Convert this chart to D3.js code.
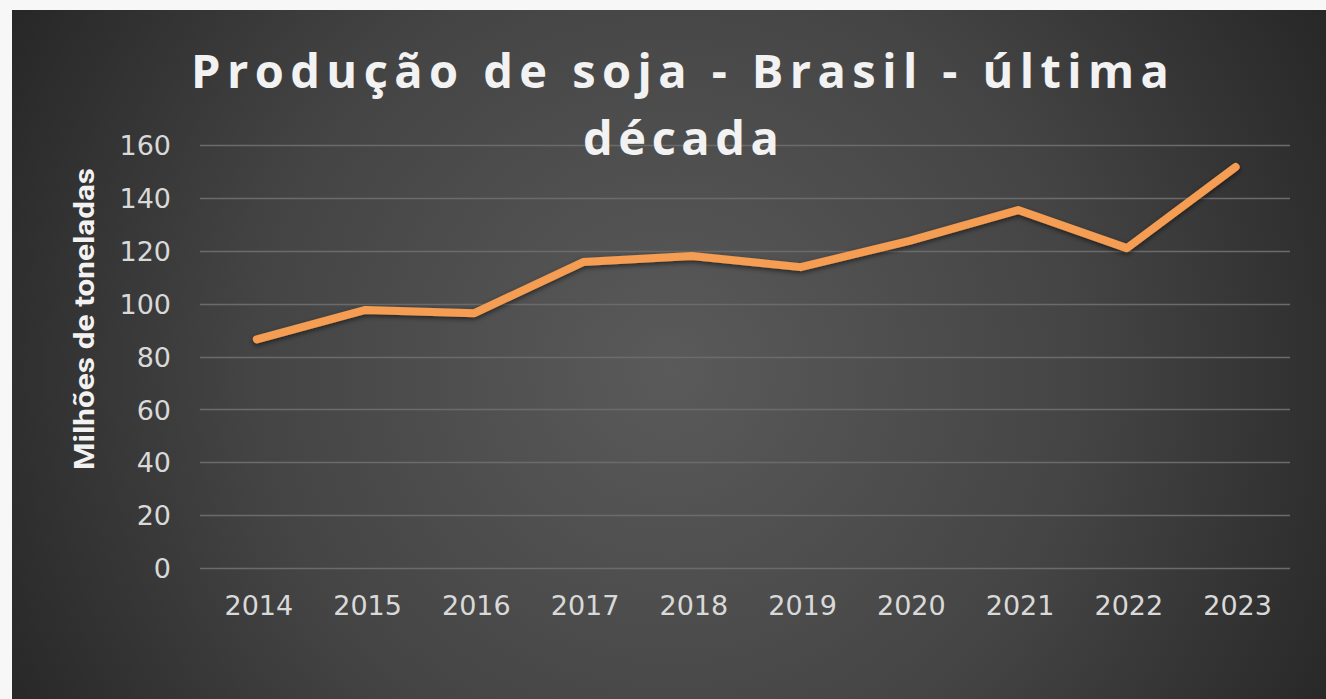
<!DOCTYPE html>
<html>
<head>
<meta charset="utf-8">
<script src="https://cdn.jsdelivr.net/npm/d3@7"></script>
<style>
  html, body { margin: 0; padding: 0; background: #262626; overflow: hidden; width: 100%; height: 100%; }
  svg { display: block; position: fixed; left: 0; top: 0; }
</style>
</head>
<body>
<svg id="chart" width="1326" height="699"></svg>
<script>
const years = ["2014","2015","2016","2017","2018","2019","2020","2021","2022","2023"];
const production = [86.5, 97.6, 96.4, 115.7, 118.0, 113.8, 123.7, 135.4, 121.0, 151.7];
const yTicks = [0, 20, 40, 60, 80, 100, 120, 140, 160];
const titleLines = ["Produção de soja - Brasil - última", "década"];
const yAxisTitle = "Milhões de toneladas";

const W = 1326, H = 699;
const svg = d3.select("#chart");
const defs = svg.append("defs");

const grad = defs.append("radialGradient")
  .attr("id", "bg").attr("gradientUnits", "userSpaceOnUse")
  .attr("cx", 670).attr("cy", 370).attr("r", 760);
grad.append("stop").attr("offset", "0%").attr("stop-color", "#5a5a5a");
grad.append("stop").attr("offset", "55%").attr("stop-color", "#444444");
grad.append("stop").attr("offset", "100%").attr("stop-color", "#262626");

const shadow = defs.append("filter").attr("id", "shadow")
  .attr("x", "-10%").attr("y", "-10%").attr("width", "120%").attr("height", "130%");
shadow.append("feDropShadow").attr("dx", 0).attr("dy", 2).attr("stdDeviation", 2.5)
  .attr("flood-color", "#000").attr("flood-opacity", 0.55);

// outer white frame + panel
svg.append("rect").attr("x", 0).attr("y", 0).attr("width", W).attr("height", H).attr("fill", "#f7f7f7");
svg.append("rect").attr("x", 12).attr("y", 10).attr("width", W).attr("height", H)
  .attr("fill", "url(#bg)");

const x = d3.scaleBand().domain(years).range([202.5, 1290]);
const y = d3.scaleLinear().domain([0, 160]).range([568, 145]);

// gridlines
svg.append("g").selectAll("line").data(yTicks).join("line")
  .attr("x1", 200).attr("x2", 1290)
  .attr("y1", d => Math.round(y(d)) + 0.5).attr("y2", d => Math.round(y(d)) + 0.5)
  .attr("stroke", "#6b6b6b").attr("stroke-width", 1.5);

// y axis labels
const yAxis = d3.axisLeft(y).tickValues(yTicks).tickSize(0).tickPadding(0);
const gy = svg.append("g").attr("transform", "translate(171,0)").call(yAxis);
gy.select(".domain").remove();
gy.selectAll("text")
  .attr("fill", "#d9d9d9")
  .style("font-family", "'DejaVu Sans', sans-serif")
  .style("font-size", "27px")
  .attr("dy", "0.36em");

// x axis labels
const xAxis = d3.axisBottom(x).tickSize(0).tickPadding(0);
const gx = svg.append("g").attr("transform", "translate(2,596)").call(xAxis);
gx.select(".domain").remove();
gx.selectAll("text")
  .attr("fill", "#d9d9d9")
  .style("font-family", "'DejaVu Sans', sans-serif")
  .style("font-size", "27px")
  .attr("dy", "0.72em");

// line
const line = d3.line()
  .x((d, i) => x(years[i]) + x.bandwidth() / 2)
  .y(d => y(d));
svg.append("path").datum(production)
  .attr("d", line)
  .attr("fill", "none")
  .attr("stroke", "#f59d52")
  .attr("stroke-width", 8)
  .attr("stroke-linecap", "round")
  .attr("stroke-linejoin", "round")
  .attr("filter", "url(#shadow)");

// title
const title = svg.append("g");
title.append("text")
  .attr("x", 680).attr("y", 88)
  .attr("text-anchor", "middle")
  .attr("textLength", 978).attr("lengthAdjust", "spacing")
  .attr("fill", "#f2f2f2")
  .style("font-family", "'Open Sans', sans-serif")
  .style("font-weight", "bold")
  .style("font-size", "47px")
  .text(titleLines[0]);
title.append("text")
  .attr("x", 681).attr("y", 155)
  .attr("text-anchor", "middle")
  .attr("textLength", 196).attr("lengthAdjust", "spacing")
  .attr("fill", "#f2f2f2")
  .style("font-family", "'Open Sans', sans-serif")
  .style("font-weight", "bold")
  .style("font-size", "47px")
  .text(titleLines[1]);

// y axis title
svg.append("text")
  .attr("transform", "translate(94,319) rotate(-90)")
  .attr("text-anchor", "middle")
  .attr("textLength", 302).attr("lengthAdjust", "spacingAndGlyphs")
  .attr("fill", "#f2f2f2")
  .style("font-family", "Roboto, sans-serif")
  .style("font-weight", "bold")
  .style("font-size", "27px")
  .text(yAxisTitle);
</script>
</body>
</html>
